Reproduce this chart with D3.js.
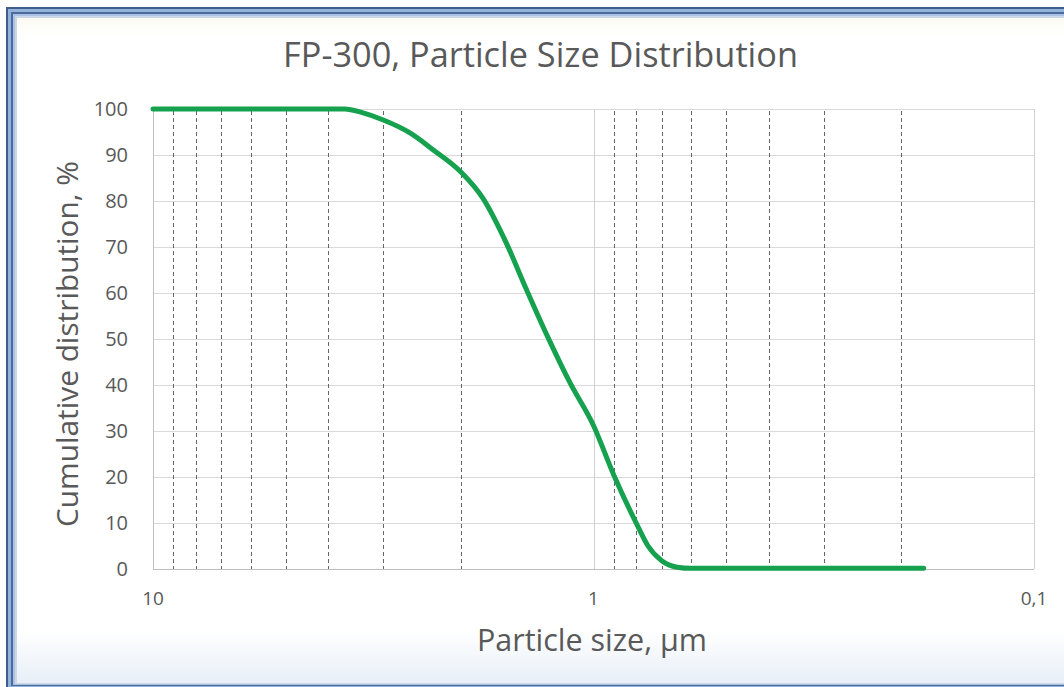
<!DOCTYPE html>
<html><head><meta charset="utf-8">
<script src="https://cdn.jsdelivr.net/npm/d3@7"></script>
<style>html,body{margin:0;padding:0;background:#fff;overflow:hidden}</style>
</head><body>
<svg id="chart" width="1064" height="687"></svg>
<script>
// ---- data ----
const titleText = "FP-300, Particle Size Distribution";
const xTitleText = "Particle size, µm";
const yTitleText = "Cumulative distribution, %";
const sizes = [10, 8, 6, 5, 4, 3.67, 3.35, 3.0, 2.61, 2.31, 2.0, 1.78, 1.58, 1.416, 1.268, 1.131, 1.0, 0.9, 0.8, 0.752, 0.7, 0.646, 0.6, 0.5, 0.4, 0.3, 0.2, 0.178];
const cumulative = [100, 100, 100, 100, 100, 100, 99.2, 97.6, 94.8, 91.1, 86.3, 80.5, 71, 60.5, 50.3, 40.5, 31.2, 20.5, 10, 5, 1.8, 0.4, 0.15, 0.15, 0.15, 0.15, 0.15, 0.15];
const majorX = [10, 1, 0.1];
const majorXLabels = ["10", "1", "0,1"];
const minorX = [9, 8, 7, 6, 5, 4, 3, 2, 0.9, 0.8, 0.7, 0.6, 0.5, 0.4, 0.3, 0.2];
const yTicks = [0, 10, 20, 30, 40, 50, 60, 70, 80, 90, 100];

// ---- drawing ----
const svg = d3.select("#chart");
const FONT = "'Open Sans', 'DejaVu Sans', sans-serif";
const TXT = "#595959";

const defs = svg.append("defs");
const grad = defs.append("linearGradient").attr("id", "bg").attr("x1", 0).attr("y1", 0).attr("x2", 0).attr("y2", 1);
grad.append("stop").attr("offset", "0%").attr("stop-color", "#fbfbf3");
grad.append("stop").attr("offset", "3%").attr("stop-color", "#ffffff");
grad.append("stop").attr("offset", "92%").attr("stop-color", "#ffffff");
grad.append("stop").attr("offset", "100%").attr("stop-color", "#e8eff8");

// frame (double blue border)
const frame = [
  {x: 6, y: 7, b: 700, c: "#3e5d8c"},
  {x: 8, y: 9, b: 687, c: "#93b2da"},
  {x: 11, y: 12, b: 686, c: "#4a6b9b"},
  {x: 13, y: 14, b: 685, c: "#a9c2e3"},
  {x: 15, y: 16, b: 684, c: "#ccd8e8"}
];
frame.forEach(f => svg.append("rect").attr("x", f.x).attr("y", f.y).attr("width", 1100).attr("height", f.b - f.y).attr("fill", f.c));
svg.append("rect").attr("x", 17).attr("y", 18).attr("width", 1100).attr("height", 683 - 18).attr("fill", "url(#bg)");

const x = d3.scaleLog().domain([10, 0.1]).range([153, 1034]);
const y = d3.scaleLinear().domain([0, 100]).range([569, 109]);

// horizontal gridlines
svg.append("g").selectAll("line").data(yTicks).join("line")
  .attr("x1", x(10)).attr("x2", x(0.1))
  .attr("y1", d => y(d) + 0.5).attr("y2", d => y(d) + 0.5)
  .attr("stroke", "#d9d9d9").attr("stroke-width", 1);

// major vertical gridlines
svg.append("g").selectAll("line").data(majorX).join("line")
  .attr("x1", d => Math.round(x(d)) + 0.5).attr("x2", d => Math.round(x(d)) + 0.5)
  .attr("y1", y(100)).attr("y2", y(0))
  .attr("stroke", "#d0d0d0").attr("stroke-width", 1);

// minor dashed vertical lines
svg.append("g").selectAll("line").data(minorX).join("line")
  .attr("x1", d => Math.round(x(d)) + 0.5).attr("x2", d => Math.round(x(d)) + 0.5)
  .attr("y1", y(100) + 2).attr("y2", y(0))
  .attr("stroke", "#666666").attr("stroke-width", 1).attr("stroke-dasharray", "4,3");

// axis lines
svg.append("line").attr("x1", x(10)).attr("x2", x(0.1)).attr("y1", y(0) + 0.5).attr("y2", y(0) + 0.5)
  .attr("stroke", "#bfbfbf");
svg.append("line").attr("x1", Math.round(x(10)) + 0.5).attr("x2", Math.round(x(10)) + 0.5).attr("y1", y(100)).attr("y2", y(0))
  .attr("stroke", "#bfbfbf");

// curve
const pts = sizes.map((s, i) => [x(s), y(cumulative[i])]);
svg.append("path").datum(pts)
  .attr("d", d3.line().curve(d3.curveMonotoneX))
  .attr("fill", "none").attr("stroke", "#16a14f").attr("stroke-width", 5)
  .attr("stroke-linecap", "round").attr("stroke-linejoin", "round");

// y tick labels
svg.append("g").selectAll("text").data(yTicks).join("text")
  .attr("x", 128).attr("y", d => y(d)).attr("dy", "0.36em")
  .attr("text-anchor", "end").attr("font-family", FONT).attr("font-size", 20).attr("fill", TXT)
  .text(d => d);

// x tick labels
svg.append("g").selectAll("text").data(majorX).join("text")
  .attr("x", d => x(d)).attr("y", 605)
  .attr("text-anchor", "middle").attr("font-family", FONT).attr("font-size", 19).attr("fill", TXT)
  .text((d, i) => majorXLabels[i]);

function fitWidth(sel, target) {
  const w = sel.node().getComputedTextLength();
  const fs = parseFloat(sel.attr("font-size"));
  sel.attr("font-size", (fs * target / w).toFixed(2));
}

// title
const t = svg.append("text").attr("x", 540.5).attr("y", 67).attr("text-anchor", "middle")
  .attr("font-family", FONT).attr("font-size", 28).attr("fill", TXT).text(titleText);
fitWidth(t, 515);

// x title
const xt = svg.append("text").attr("x", 592).attr("y", 651).attr("text-anchor", "middle")
  .attr("font-family", FONT).attr("font-size", 25).attr("fill", TXT).text(xTitleText);
fitWidth(xt, 230);

// y title
const yt = svg.append("text").attr("transform", "translate(78,344) rotate(-90)").attr("text-anchor", "middle")
  .attr("font-family", FONT).attr("font-size", 25).attr("fill", TXT).text(yTitleText);
fitWidth(yt, 366);
</script>
</body></html>
